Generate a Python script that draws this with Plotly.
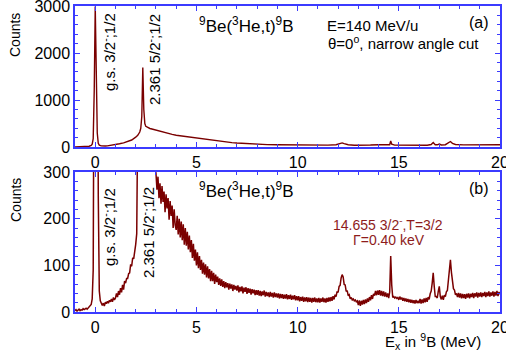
import numpy as np
import plotly.graph_objects as go
from plotly.subplots import make_subplots

# ---------------- data ----------------
# (a) narrow angle cut spectrum
E_top = [-1.0, -0.8, -0.6, -0.4, -0.3, -0.2, -0.15, -0.1, -0.05, 0.0, 0.05, 0.1, 0.15, 0.2, 0.3,
         0.4, 0.5, 0.6, 0.8, 1.0, 1.2, 1.4, 1.6, 1.8, 2.0, 2.1, 2.2, 2.25, 2.3, 2.35, 2.4, 2.45,
         2.5, 2.6, 2.7, 2.8, 3.0, 3.2, 3.4, 3.6, 3.8, 4.0, 4.2, 4.4, 4.6, 4.8, 5.0, 5.25, 5.5,
         5.75, 6.0, 6.25, 6.5, 6.75, 7.0, 7.25, 7.5, 7.75, 8.0, 8.5, 9.0, 9.5, 10.0, 10.5, 11.0,
         11.5, 11.9, 12.1, 12.2, 12.3, 12.5, 12.8, 13.2, 13.6, 14.0, 14.4, 14.55, 14.6, 14.65,
         14.8, 15.2, 15.6, 16.0, 16.4, 16.6, 16.7, 16.8, 16.9, 17.0, 17.1, 17.3, 17.45, 17.55,
         17.65, 17.8, 18.2, 18.6, 19.0, 19.4, 19.8, 20.0]
counts_top = [2, 3, 5, 10, 18, 35, 60, 180, 1200, 2990, 1500, 300, 80, 40, 25,
              20, 22, 26, 38, 55, 70, 90, 115, 150, 210, 250, 320, 400, 650, 1690, 800, 500,
              440, 410, 395, 385, 360, 340, 315, 295, 270, 252, 240, 232, 225, 205, 192, 172, 158,
              142, 128, 117, 107, 95, 85, 78, 71, 64, 58, 52, 48, 45, 44, 42, 41,
              42, 50, 75, 88, 72, 50, 40, 38, 44, 50, 46, 50, 130, 60,
              42, 40, 38, 37, 40, 55, 95, 50, 48, 65, 45, 50, 85, 118,
              80, 55, 47, 46, 47, 48, 48, 48]

# (b) full spectrum, 50 keV bins starting at -1.0 MeV
E_START = -1.0
BIN = 0.05
counts_bot = [
    3, 5, 2, 4, 6, 3, 5, 4, 7, 5, 6, 8, 6, 9, 10, 13, 16, 28, 90, 700,                         # -1
    3000, 2200, 900, 250, 45, 24, 18, 14, 19, 13, 21, 18, 23, 19, 25, 22, 28, 22, 31, 26,       # 0
    30, 40, 32, 45, 37, 51, 42, 58, 48, 66, 62, 72, 72, 82, 84, 102, 98, 116, 114, 138,         # 1
    145, 168, 205, 250, 300, 380, 600, 1700, 900, 520, 420, 390, 365, 350, 340, 332, 325, 318, 312, 306,  # 2
    298, 262, 290, 244, 276, 232, 270, 236, 258, 214, 252, 222, 244, 198, 238, 206, 228, 180, 220, 186,  # 3
    176, 206, 166, 200, 160, 194, 154, 188, 144, 180, 142, 172, 134, 164, 128, 154, 116, 146, 110, 134,  # 4
    100, 128, 94, 120, 90, 112, 82, 106, 80, 102, 74, 98, 72, 92, 66, 88, 66, 84, 60, 80,       # 5
    64, 76, 58, 72, 56, 70, 54, 66, 51, 64, 53, 62, 48, 61, 50, 59, 45, 58, 48, 56,             # 6
    46, 57, 42, 54, 44, 55, 40, 52, 43, 53, 39, 51, 41, 50, 37, 49, 40, 48, 36, 47,             # 7
    37, 47, 35, 45, 34, 44, 36, 46, 33, 43, 34, 42, 32, 43, 33, 41, 31, 42, 32, 40,             # 8
    31, 40, 29, 39, 30, 38, 28, 37, 29, 38, 27, 36, 28, 37, 26, 35, 27, 36, 25, 34,             # 9
    25, 34, 23, 32, 24, 33, 22, 31, 23, 32, 21, 31, 22, 30, 20, 30, 22, 31, 21, 29,             # 10
    21, 30, 20, 29, 22, 31, 21, 29, 20, 30, 22, 31, 23, 32, 24, 34, 27, 37, 33, 44,             # 11
    42, 55, 57, 73, 80, 75, 59, 58, 44, 46, 35, 37, 28, 31, 26, 28, 24, 26, 22, 24,             # 12
    15, 25, 13, 24, 16, 26, 17, 27, 19, 29, 22, 32, 25, 36, 28, 39, 35, 45, 36, 46,             # 13
    37, 47, 35, 45, 34, 44, 33, 42, 32, 40, 30, 43, 120, 58, 31, 33, 30, 32, 29, 31,            # 14
    26, 33, 27, 31, 24, 30, 23, 29, 22, 28, 21, 27, 20, 26, 19, 25, 18, 26, 19, 24,             # 15
    19, 28, 18, 27, 19, 29, 21, 30, 22, 32, 27, 39, 45, 62, 84, 55, 33, 33, 30, 44,             # 16
    55, 33, 27, 35, 26, 36, 33, 43, 46, 68, 95, 112, 85, 62, 50, 47, 37, 40, 32, 41,            # 17
    31, 40, 29, 39, 30, 38, 28, 39, 31, 40, 29, 39, 32, 41, 30, 40, 33, 42, 31, 41,             # 18
    33, 42, 32, 41, 34, 43, 32, 42, 34, 44, 33, 42, 35, 44, 33, 43, 35, 45, 34, 43,             # 19
    38,                                                                                         # 20
]
E_bot = np.round(E_START + BIN * np.arange(len(counts_bot)), 3)

X_TICKS = [0, 5, 10, 15, 20]
assert len(E_top) == len(counts_top)

# ---------------- figure ----------------
LINE = "#7a0000"
AXIS = "#3b3bff"
FONT = "Liberation Sans, Arial, sans-serif"

fig = make_subplots(rows=2, cols=1, vertical_spacing=0.0)
fig.add_trace(go.Scatter(x=E_top, y=counts_top, mode="lines",
                         line=dict(color=LINE, width=1.4), showlegend=False), row=1, col=1)
fig.add_trace(go.Scatter(x=E_bot, y=counts_bot, mode="lines",
                         line=dict(color=LINE, width=1.5), showlegend=False), row=2, col=1)

axis_common = dict(showline=True, linecolor=AXIS, linewidth=1.5, mirror="ticks",
                   ticks="inside", tickcolor=AXIS, ticklen=5, tickwidth=1.2,
                   showgrid=False, zeroline=False, automargin=False,
                   ticklabeloverflow="allow",
                   tickfont=dict(family=FONT, size=16, color="black"))

fig.update_xaxes(range=[-1, 20], tickvals=X_TICKS,
                 minor=dict(dtick=1, ticks="inside", ticklen=3, tickcolor=AXIS),
                 **axis_common)
fig.update_yaxes(**axis_common)
fig.update_yaxes(range=[0, 3000], dtick=1000,
                 minor=dict(dtick=200, ticks="inside", ticklen=3, tickcolor=AXIS),
                 row=1, col=1)
fig.update_yaxes(range=[0, 300], dtick=100,
                 minor=dict(dtick=20, ticks="inside", ticklen=3, tickcolor=AXIS),
                 row=2, col=1)
fig.update_layout(
    yaxis=dict(domain=[0.539, 1.0]),
    yaxis2=dict(domain=[0.0, 0.4575]),
)

W, H = 506, 358
ML, MR, MT, MB = 75, 6, 6, 46
fig.update_layout(width=W, height=H, margin=dict(l=ML, r=MR, t=MT, b=MB),
                  plot_bgcolor="white", paper_bgcolor="white",
                  font=dict(family=FONT, size=14, color="black"))

pw = W - ML - MR
ph = H - MT - MB


def px(xp):
    return (xp - ML) / pw


def py(yp):
    return (H - MB - yp) / ph


def note(text, xp, yp, size=14, color="black", angle=0, xanchor="center"):
    fig.add_annotation(text=text, xref="paper", yref="paper", x=px(xp), y=py(yp),
                       showarrow=False, textangle=angle, xanchor=xanchor, yanchor="middle",
                       font=dict(family=FONT, size=size, color=color))


reaction = "<sup>9</sup>Be(<sup>3</sup>He,t)<sup>9</sup>B"
note(reaction, 246, 25, size=17)
note("E=140 MeV/u", 372, 25, size=15)
note("θ=0<sup>o</sup>, narrow angle cut", 403, 42, size=15)
note("(a)", 479, 22, size=16)
note("g.s. 3/2<sup>-</sup>;1/2", 108, 52, size=15, angle=-90)
note("2.361 5/2<sup>-</sup>;1/2", 153, 60, size=15, angle=-90)
note("Counts", 15, 35, size=14, angle=-90)

note(reaction, 246, 190, size=17)
note("(b)", 479, 188, size=16)
note("g.s. 3/2<sup>-</sup>;1/2", 108, 227, size=15, angle=-90)
note("2.361 5/2<sup>-</sup>;1/2", 147, 233, size=15, angle=-90)
note("Counts", 16, 200, size=14, angle=-90)
note("14.655 3/2<sup>-</sup>,T=3/2", 388, 224, size=14, color="#8e1c1c")
note("Γ=0.40 keV", 389, 240, size=14, color="#8e1c1c")
note("E<sub>x</sub> in <sup>9</sup>B (MeV)", 433, 341, size=15)

fig.write_html("out.html", config={"displayModeBar": False},
               post_script="document.body.style.margin='0px';document.body.style.overflow='hidden';")
